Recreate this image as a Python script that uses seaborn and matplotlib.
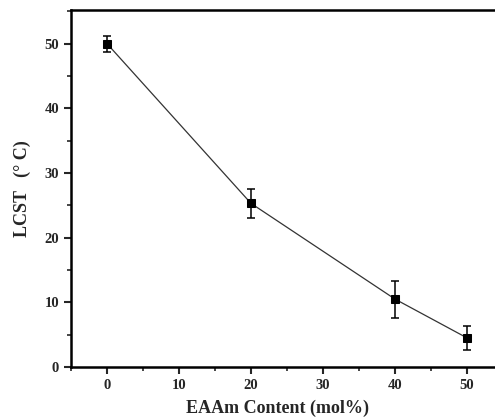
import pandas as pd
import seaborn as sns
import matplotlib.pyplot as plt
from matplotlib.ticker import MultipleLocator

# data
eaam = [0, 20, 40, 50]
lcst = [50.0, 25.3, 10.5, 4.5]
lcst_err = [1.25, 2.2, 2.85, 1.9]

df = pd.DataFrame({'EAAm': eaam, 'LCST': lcst, 'err': lcst_err})

sns.set_style('ticks')
plt.rcParams['font.family'] = ['Liberation Serif', 'DejaVu Serif']

fig = plt.figure(figsize=(4.95, 4.18), dpi=100)
ax = fig.add_axes([71 / 495, 51 / 418, 432 / 495, 357 / 418])

ax.errorbar(df['EAAm'], df['LCST'], yerr=df['err'], fmt='none', ecolor='black',
            elinewidth=1.1, capsize=3, capthick=1.1, zorder=3)
sns.lineplot(data=df, x='EAAm', y='LCST', ax=ax, color='#333333', linewidth=0.9,
             marker='s', markersize=6, markerfacecolor='black', markeredgecolor='black',
             zorder=4)

ax.set_xlim(-5, 55)
ax.set_ylim(0, 55.2)
ax.xaxis.set_major_locator(MultipleLocator(10))
ax.xaxis.set_minor_locator(MultipleLocator(5))
ax.yaxis.set_major_locator(MultipleLocator(10))
ax.yaxis.set_minor_locator(MultipleLocator(5))
ax.tick_params(which='major', direction='out', length=5, width=1.5, labelsize=10.5)
ax.tick_params(which='minor', direction='out', length=3, width=1.2)
for lab in ax.get_xticklabels() + ax.get_yticklabels():
    lab.set_fontweight('bold')

for s in ax.spines.values():
    s.set_linewidth(1.8)
    s.set_color('black')
ax.spines['right'].set_visible(False)

ax.set_xlabel('EAAm Content (mol%)', fontsize=13, fontweight='bold')
ax.xaxis.set_label_coords(0.479, -0.117, transform=ax.transAxes)
ax.xaxis.label.set_va('center')
ax.set_ylabel('LCST   (° C)', fontsize=13, fontweight='bold', labelpad=10)

plt.savefig('out.png', dpi=100)
